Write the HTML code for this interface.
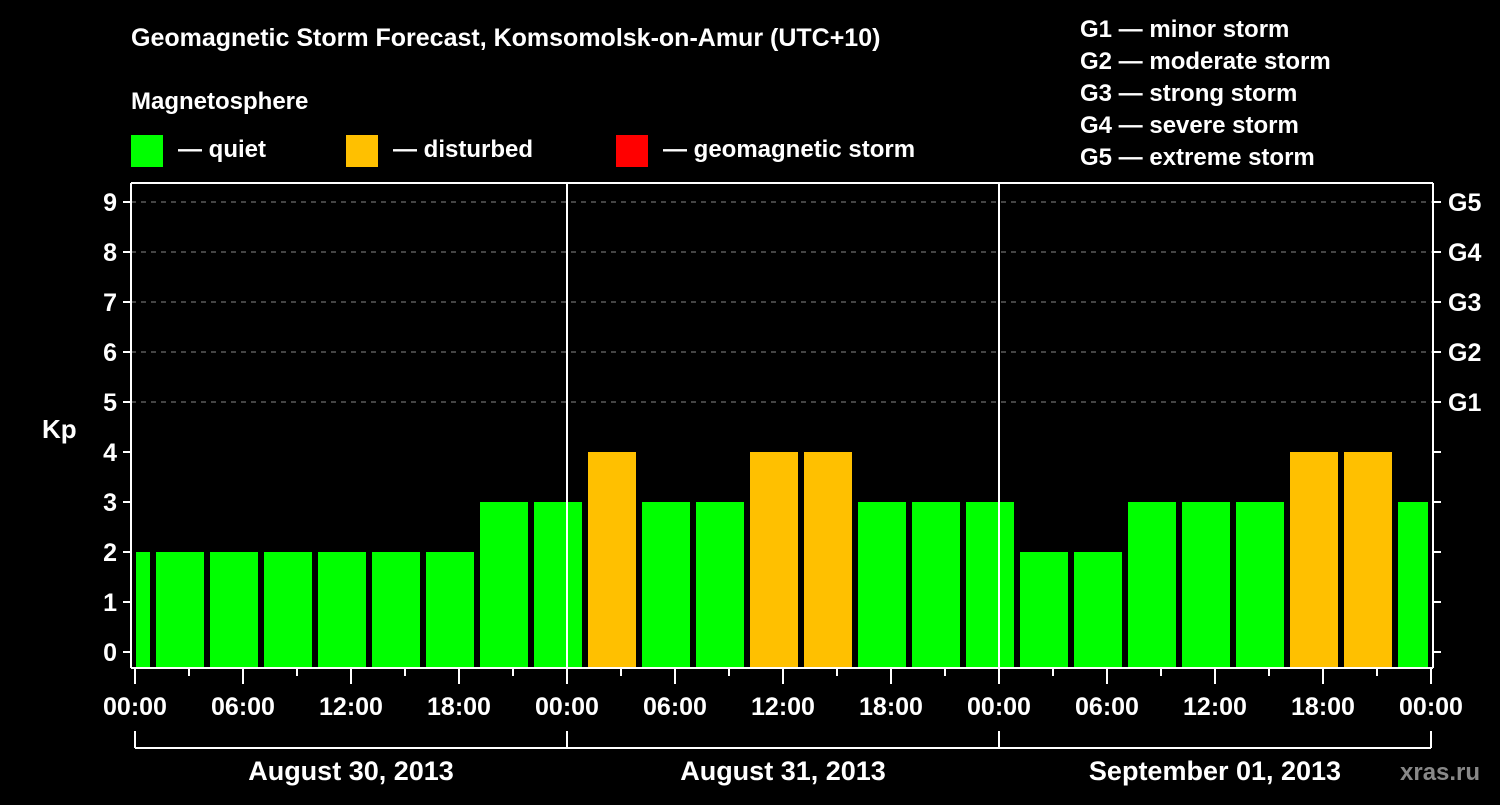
<!DOCTYPE html>
<html><head><meta charset="utf-8"><style>
body{margin:0;background:#000;width:1500px;height:800px;overflow:hidden}
svg text{font-family:"Liberation Sans",Arial,sans-serif;font-weight:bold;fill:#fff}
</style></head><body>
<svg id="chart" width="1500" height="800" xmlns="http://www.w3.org/2000/svg">
<rect width="1500" height="800" fill="#000"/>
<text x="131" y="46" font-size="25">Geomagnetic Storm Forecast, Komsomolsk-on-Amur (UTC+10)</text>
<text x="131" y="109" font-size="24">Magnetosphere</text>
<g><rect x="131" y="135" width="32" height="32" fill="#00ff00"/><text x="178" y="157" font-size="24">— quiet</text></g>
<g><rect x="346" y="135" width="32" height="32" fill="#ffc000"/><text x="393" y="157" font-size="24">— disturbed</text></g>
<g><rect x="616" y="135" width="32" height="32" fill="#ff0000"/><text x="663" y="157" font-size="24">— geomagnetic storm</text></g>
<g font-size="24">
<text x="1080" y="37">G1 — minor storm</text>
<text x="1080" y="69">G2 — moderate storm</text>
<text x="1080" y="101">G3 — strong storm</text>
<text x="1080" y="133">G4 — severe storm</text>
<text x="1080" y="165">G5 — extreme storm</text>
</g>
<text x="42" y="438" font-size="26">Kp</text>
<text x="1400" y="780" font-size="24" fill="#888" style="fill:#888">xras.ru</text>
<g id="grid"></g><g id="bars"></g><g id="axes"></g>
</svg>
<script>
const kpValues=[2,2,2,2,2,2,2,3,3,4,3,3,4,4,3,3,3,2,2,3,3,3,4,4,3];
const barStartHours=[-2,1,4,7,10,13,16,19,22,25,28,31,34,37,40,43,46,49,52,55,58,61,64,67,70];
const xTickLabels=["00:00","06:00","12:00","18:00","00:00","06:00","12:00","18:00","00:00","06:00","12:00","18:00","00:00"];
const yTickLabels=["0","1","2","3","4","5","6","7","8","9"];
const gLabels=["G1","G2","G3","G4","G5"];
const dayLabels=["August 30, 2013","August 31, 2013","September 01, 2013"];
const NS="http://www.w3.org/2000/svg";
const X=h=>135+18*h, Y=k=>652-50*k;
const L=131,R=1433,T=183,B=668;
function mk(tag,attrs,parent,txt){const e=document.createElementNS(NS,tag);for(const k in attrs)e.setAttribute(k,attrs[k]);if(txt!==undefined)e.textContent=txt;document.getElementById(parent).appendChild(e);return e;}
for(let k=5;k<=9;k++){const e=mk('line',{x1:L,x2:R,y1:Y(k),y2:Y(k),stroke:'#888','stroke-dasharray':'5,5','stroke-width':1},'grid');

}
kpValues.forEach((v,i)=>{const s=barStartHours[i];let x0=Math.max(X(s)+3,L+5),x1=Math.min(X(s+3)-3,R-5);
const col=v>=5?'#ff0000':v>=4?'#ffc000':'#00ff00';
const e=mk('rect',{x:x0,y:Y(v),width:x1-x0,height:B-Y(v),fill:col},'bars');

});
[[L,T,R,T],[L,T,L,B],[L,B,R,B],[R,T,R,B],[X(24),T,X(24),B],[X(48),T,X(48),B]].forEach(a=>{const e=mk('line',{x1:a[0],y1:a[1],x2:a[2],y2:a[3],stroke:'#fff','stroke-width':2},'axes');

});
yTickLabels.forEach((t,k)=>{mk('line',{x1:L-8,x2:L,y1:Y(k),y2:Y(k),stroke:'#fff','stroke-width':2},'axes');mk('line',{x1:R,x2:R+8,y1:Y(k),y2:Y(k),stroke:'#fff','stroke-width':2},'axes');
const e=mk('text',{x:L-14,y:Y(k)+9,'font-size':25,'text-anchor':'end'},'axes',t);

});
gLabels.forEach((g,i)=>{const e=mk('text',{x:1448,y:Y(5+i)+9,'font-size':25},'axes',g);

});
for(let h=0;h<=72;h+=3){const major=h%6===0;mk('line',{x1:X(h),x2:X(h),y1:B,y2:B+(major?16:8),stroke:'#fff','stroke-width':2},'axes');}
xTickLabels.forEach((t,i)=>{const e=mk('text',{x:X(i*6),y:715,'font-size':25,'text-anchor':'middle'},'axes',t);

});
mk('line',{x1:X(0),x2:X(72),y1:748,y2:748,stroke:'#fff','stroke-width':2},'axes');
for(let d=0;d<=3;d++)mk('line',{x1:X(24*d),x2:X(24*d),y1:731,y2:748,stroke:'#fff','stroke-width':2},'axes');
dayLabels.forEach((t,d)=>{const e=mk('text',{x:X(24*d+12),y:780,'font-size':27,'text-anchor':'middle'},'axes',t);

});
</script>
</body></html>
